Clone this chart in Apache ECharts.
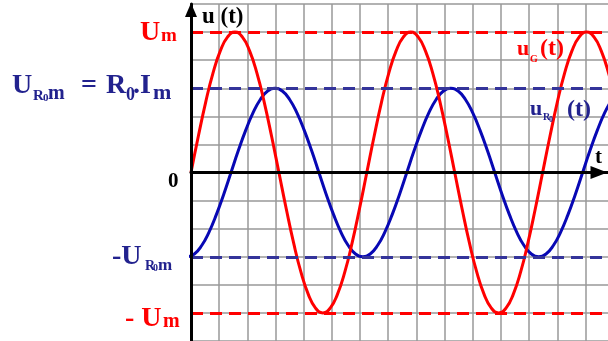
<!DOCTYPE html>
<html>
<head>
<meta charset="utf-8">
<script src="https://cdn.jsdelivr.net/npm/echarts@6/dist/echarts.min.js"></script>
<style>html,body{margin:0;padding:0;background:#fff;}#c{width:608px;height:341px;}</style>
</head>
<body>
<div id="c"></div>
<script>
// ---- data ----
const tRed = [0, 0.26, 0.52, 0.78, 1.04, 1.3, 1.56, 1.82, 2.08, 2.34, 2.6, 2.86, 3.12, 3.38, 3.64, 3.9, 4.16, 4.42, 4.68, 4.94, 5.2, 5.46, 5.72, 5.98,
  6.24, 6.5, 6.76, 7.02, 7.28, 7.54, 7.8, 8.06, 8.32, 8.58, 8.84, 9.1, 9.36, 9.62, 9.88, 10.14, 10.4, 10.66, 10.92, 11.18, 11.44, 11.7, 11.96, 12.22,
  12.48, 12.74, 13.0, 13.26, 13.52, 13.78, 14.04, 14.3, 14.56, 14.82, 15.08];
const uRed = [0, 1.29, 2.5, 3.54, 4.33, 4.83, 5, 4.83, 4.33, 3.54, 2.5, 1.29, 0, -1.29, -2.5, -3.54, -4.33, -4.83, -5, -4.83, -4.33, -3.54, -2.5, -1.29,
  0, 1.29, 2.5, 3.54, 4.33, 4.83, 5, 4.83, 4.33, 3.54, 2.5, 1.29, 0, -1.29, -2.5, -3.54, -4.33, -4.83, -5, -4.83, -4.33, -3.54, -2.5, -1.29,
  0, 1.29, 2.5, 3.54, 4.33, 4.83, 5, 4.83, 4.33, 3.54, 2.5];
const tBlue = [-0.14, 0.12, 0.38, 0.64, 0.9, 1.16, 1.42, 1.68, 1.94, 2.2, 2.46, 2.72, 2.98, 3.24, 3.5, 3.76, 4.02, 4.28, 4.54, 4.8, 5.06, 5.32, 5.58, 5.84,
  6.1, 6.36, 6.62, 6.88, 7.14, 7.4, 7.66, 7.92, 8.18, 8.44, 8.7, 8.96, 9.22, 9.48, 9.74, 10.0, 10.26, 10.52, 10.78, 11.04, 11.3, 11.56, 11.82, 12.08,
  12.34, 12.6, 12.86, 13.12, 13.38, 13.64, 13.9, 14.16, 14.42, 14.68, 14.94];
const uBlue = [-3, -2.9, -2.6, -2.12, -1.5, -0.78, 0, 0.78, 1.5, 2.12, 2.6, 2.9, 3, 2.9, 2.6, 2.12, 1.5, 0.78, 0, -0.78, -1.5, -2.12, -2.6, -2.9,
  -3, -2.9, -2.6, -2.12, -1.5, -0.78, 0, 0.78, 1.5, 2.12, 2.6, 2.9, 3, 2.9, 2.6, 2.12, 1.5, 0.78, 0, -0.78, -1.5, -2.12, -2.6, -2.9,
  -3, -2.9, -2.6, -2.12, -1.5, -0.78, 0, 0.78, 1.5, 2.12, 2.6];
const levelsRed = [5, -5];   // Um, -Um
const levelsBlue = [3, -3];  // UR0m, -UR0m
const tRange = [0, 14.8];
const uRange = [-6, 6];

// ---- styling ----
const RED = '#ff0000';
const NAVY = '#22228e';
const BLUE = '#0808b4';
const BLUEDASH = '#34349a';
const GRID = '#999999';

const pairs = (xs, ys) => xs.map((x, i) => [x, ys[i]]);

// text fragments: [text, x, baseline, size, color]
const frags = [
  ['U', 140, 42, 28, RED], ['m', 161, 43, 19, RED],
  ['U', 12, 95, 28, NAVY], ['R', 33, 101, 15, NAVY], ['0', 43, 102, 11, NAVY], ['m', 48, 101, 20, NAVY],
  ['=', 81, 95, 28, NAVY], ['R', 106, 95, 28, NAVY], ['0', 126, 101, 18, NAVY], ['.I', 133, 95, 28, NAVY], ['m', 153, 101, 22, NAVY],
  ['0', 168, 189, 21, '#000'],
  ['-U', 112, 266, 28, NAVY], ['R', 145, 271, 14, NAVY], ['0', 153, 272, 10, NAVY], ['m', 158, 271, 17, NAVY],
  ['- U', 125, 328, 28, RED], ['m', 163, 329, 20, RED],
  ['u (t)', 202, 25, 23, '#000'],
  ['u', 517, 57, 22, RED], ['G', 530, 63, 10, RED], ['(t)', 540, 57, 24, RED],
  ['u', 530, 117, 22, NAVY], ['R', 543, 121, 10, NAVY], ['0', 549, 123, 8, NAVY], ['(t)', 567, 118, 24, NAVY],
  ['t', 595, 165, 21, '#000']
];
const graphics = frags.map(f => ({
  type: 'text', z: 100,
  style: {
    text: f[0], x: f[1], y: f[2] - 0.3375 * f[3],
    font: 'bold ' + f[3] + 'px "Liberation Serif"',
    fill: f[4], textAlign: 'left', textVerticalAlign: 'middle', align: 'left', verticalAlign: 'middle'
  }
}));

const mk = (vals, color) => ({
  silent: true, symbol: ['none', 'none'], animation: false,
  label: { show: false },
  lineStyle: { color: color, width: 3, type: [12, 7], opacity: 1 },
  emphasis: { disabled: true },
  data: vals.map(v => ({ yAxis: v }))
});

const chart = echarts.init(document.getElementById('c'), null, { renderer: 'canvas' });
chart.setOption({
  animation: false,
  backgroundColor: '#fff',
  grid: { left: 191, right: 0, top: 4, bottom: -3, containLabel: false },
  xAxis: [
    { type: 'value', min: tRange[0], max: tRange[1], interval: 1, z: 0,
      axisLine: { show: false, onZero: false }, axisTick: { show: false }, axisLabel: { show: false },
      splitLine: { show: true, showMinLine: false, showMaxLine: false, lineStyle: { color: GRID, width: 1.5 } } },
    { type: 'value', min: tRange[0], max: tRange[1], interval: 1, z: 10,
      axisLine: { show: true, onZero: true, onZeroAxisIndex: 1, symbol: ['none', 'triangle'], symbolSize: [13, 17], symbolOffset: [0, -9],
        lineStyle: { color: '#000', width: 3 } },
      axisTick: { show: false }, axisLabel: { show: false }, splitLine: { show: false } }
  ],
  yAxis: [
    { type: 'value', min: uRange[0], max: uRange[1], interval: 1, z: 0,
      axisLine: { show: false, onZero: false }, axisTick: { show: false }, axisLabel: { show: false },
      splitLine: { show: true, lineStyle: { color: GRID, width: 1.5 } } },
    { type: 'value', min: uRange[0], max: uRange[1], interval: 1, z: 10,
      axisLine: { show: true, onZero: true, onZeroAxisIndex: 1, symbol: ['none', 'triangle'], symbolSize: [12, 14], symbolOffset: [0, -6],
        lineStyle: { color: '#000', width: 3 } },
      axisTick: { show: false }, axisLabel: { show: false }, splitLine: { show: false } }
  ],
  series: [
    { type: 'line', name: 'uR0', xAxisIndex: 0, yAxisIndex: 0, data: pairs(tBlue, uBlue), smooth: 0.5,
      showSymbol: false, symbol: 'none', lineStyle: { color: BLUE, width: 3 }, z: 3,
      markLine: mk(levelsBlue, BLUEDASH) },
    { type: 'line', name: 'uG', xAxisIndex: 0, yAxisIndex: 0, data: pairs(tRed, uRed), smooth: 0.5,
      showSymbol: false, symbol: 'none', lineStyle: { color: RED, width: 3 }, z: 4,
      markLine: mk(levelsRed, RED) }
  ],
  graphic: graphics
});
</script>
</body>
</html>
